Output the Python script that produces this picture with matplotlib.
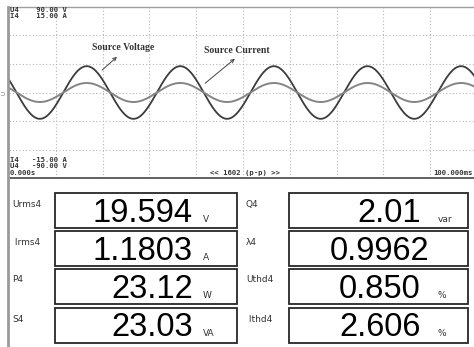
import numpy as np
import matplotlib.pyplot as plt
from matplotlib.patches import Rectangle

# measured values shown on the meter
left_labels = ["Urms4", " Irms4", "P4", "S4"]
left_values = ["19.594", "1.1803", "23.12", "23.03"]
left_units = ["V", "A", "W", "VA"]
right_labels = ["Q4", "\u03bb4", "Uthd4", " Ithd4"]
right_values = ["2.01", "0.9962", "0.850", "2.606"]
right_units = ["var", "", "%", "%"]

# waveform parameters
urms = 19.594      # V
irms = 1.1803      # A
freq = 50.0        # Hz
t_peak = 16.6      # ms, first peak of both traces
v_range = 90.0     # V full scale
i_range = 15.0     # A full scale
t_span = 100.0     # ms

W, H = 474, 347
fig = plt.figure(figsize=(W / 100, H / 100), dpi=100)

# scope window
ax = fig.add_axes([9 / W, 1 - 178 / H, 465 / W, 171 / H])
ax.set_xlim(0, t_span * 465 / 468)
ax.set_ylim(-v_range, v_range)
ax.set_xticks([])
ax.set_yticks([])
for s in ["left", "right"]:
    ax.spines[s].set_visible(False)
ax.spines["top"].set_color("#a0a0a0")
ax.spines["top"].set_linewidth(1.0)
ax.spines["bottom"].set_color("#555555")
ax.spines["bottom"].set_linewidth(1.3)

grid_kw = dict(color="#b4b4b4", lw=0.8, ls=(0, (1, 2)), zorder=1)
for gx in np.arange(10, 100, 10):
    ax.axvline(gx, **grid_kw)
for gy in [-60, -30, 0, 30, 60]:
    ax.axhline(gy, **grid_kw)

t = np.linspace(0, t_span, 1000)
phase = 2 * np.pi * freq * (t - t_peak) / 1000
ax.plot(t, urms * np.sqrt(2) * np.cos(phase), color="#3c3c3c", lw=1.3, zorder=3)

ax2 = ax.twinx()
ax2.set_ylim(-i_range, i_range)
ax2.axis("off")
ax2.plot(t, irms * np.sqrt(2) * np.cos(phase), color="#858585", lw=1.4, zorder=2)

# overlay in pixel coordinates for texts and the meter table
ov = fig.add_axes([0, 0, 1, 1])
ov.set_xlim(0, W)
ov.set_ylim(H, 0)
ov.axis("off")
ov.patch.set_visible(False)

ov.plot([8, 8], [7, H], color="#9a9a9a", lw=2.0)

mono = dict(family="DejaVu Sans Mono", fontweight="bold", fontsize=5.2,
            color="#333333", va="center")
ov.text(10, 10, "U4    90.00 V", **mono)
ov.text(10, 16, "I4    15.00 A", **mono)
ov.text(10, 160, "I4   -15.00 A", **mono)
ov.text(10, 166, "U4   -90.00 V", **mono)
ov.text(10, 172.5, "0.000s", **mono)
ov.text(210, 172.5, "<< 1602 (p-p) >>", **mono)
ov.text(473, 172.5, "100.000ms", ha="right", **{k: v for k, v in mono.items()})
ov.text(4, 93, "U", family="DejaVu Sans", fontsize=4, color="#666666",
        rotation=90, ha="center", va="center")

lab = dict(family="Liberation Serif", fontweight="bold", fontsize=7, color="#333333",
           va="center")
ov.text(92, 47, "Source Voltage", **lab)
ov.text(204, 50, "Source Current", **lab)
arr = dict(arrowstyle="->", color="#444444", lw=0.7, mutation_scale=6)
ov.annotate("", xy=(119, 55), xytext=(100, 72), arrowprops=arr)
ov.annotate("", xy=(237, 57), xytext=(203, 85), arrowprops=arr)

# meter table
row_tops = [193, 231, 269, 308]
box_h = 35
cols = [
    dict(labels=left_labels, values=left_values, units=left_units,
         lab_x=12, box_x=55, box_w=182, val_x=193, unit_x=203),
    dict(labels=right_labels, values=right_values, units=right_units,
         lab_x=246, box_x=289, box_w=179, val_x=421, unit_x=438),
]
for c in cols:
    for i, top in enumerate(row_tops):
        ov.add_patch(Rectangle((c["box_x"], top), c["box_w"], box_h, fill=False,
                               ec="#262626", lw=1.3))
        ov.text(c["lab_x"], top + 11, c["labels"][i], family="DejaVu Sans",
                fontsize=6.5, color="#333333", va="center")
        vx = c["val_x"] if c["units"][i] else c["val_x"] + 8
        ov.text(vx, top + 28.5, c["values"][i], family="Liberation Sans",
                fontsize=23.5, color="black", ha="right", va="baseline")
        if c["units"][i]:
            ov.text(c["unit_x"], top + 28.5, c["units"][i], family="DejaVu Sans",
                    fontsize=6.5, color="#333333", ha="left", va="baseline")

fig.savefig("out.png", dpi=100)
